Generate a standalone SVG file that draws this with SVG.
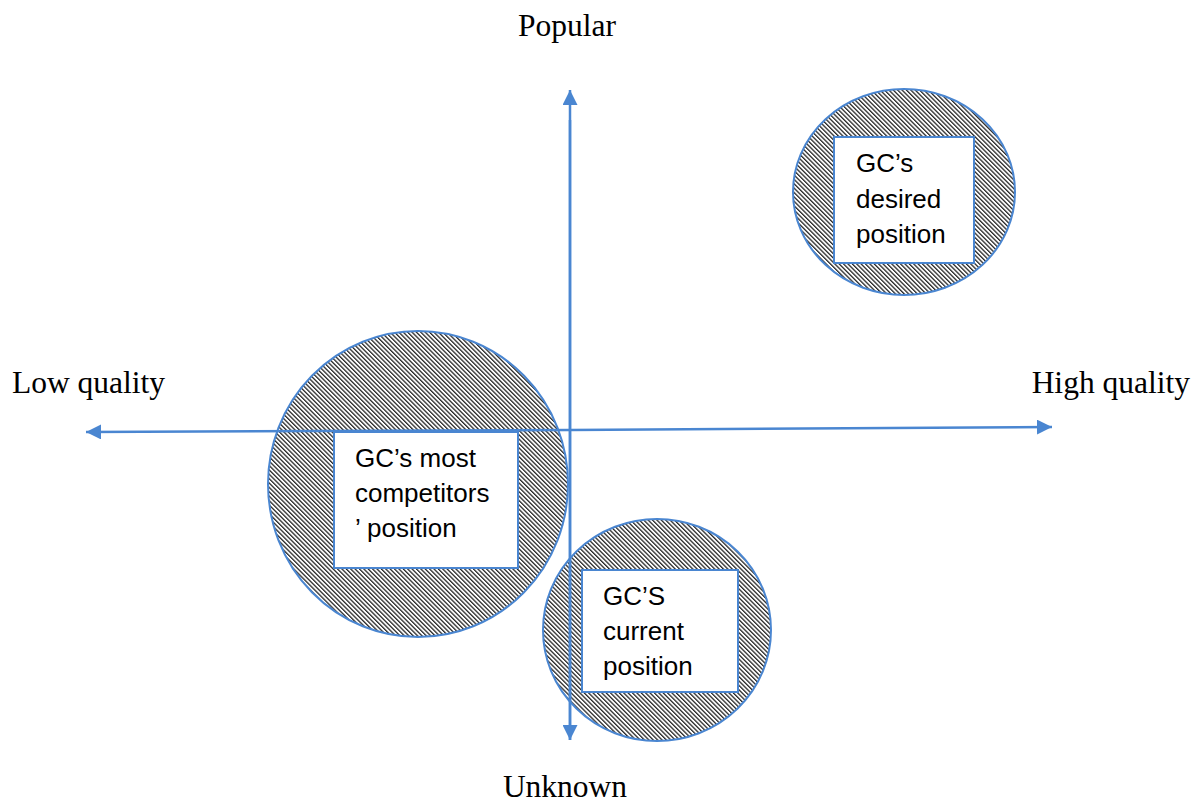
<svg xmlns="http://www.w3.org/2000/svg" width="1199" height="805" viewBox="0 0 1199 805">
<style>
.axis{stroke:#4a86d1;stroke-width:2.5;fill:none}
.circ{fill:url(#hatch);stroke:#4a86d1;stroke-width:2}
.box{fill:#fff;stroke:#4a86d1;stroke-width:2}
.lbl{font-family:"Liberation Serif",serif;font-size:31.5px;fill:#000}
.txt{font-family:"Liberation Sans",Arial,sans-serif;font-size:26px;fill:#000}
</style>
<defs>
<pattern id="hatch" patternUnits="userSpaceOnUse" width="3.1" height="6" patternTransform="rotate(-45)">
<rect x="0" y="0" width="3.1" height="6" fill="#fff"/>
<rect x="0" y="0" width="1.3" height="6" fill="#2a2a2a"/>
</pattern>
<marker id="arr" viewBox="0 0 10 10" refX="10" refY="5" markerWidth="6" markerHeight="6" markerUnits="strokeWidth" orient="auto">
<path d="M0,0 L10,5 L0,10 Z" fill="#4a86d1"/>
</marker>
</defs>
<g id="node-desired">
<ellipse class="circ" cx="904" cy="192" rx="111" ry="103"/>
<rect class="box" x="834" y="137" width="140" height="126"/>
<text class="txt" x="856" y="172">GC’s</text>
<text class="txt" x="856" y="208">desired</text>
<text class="txt" x="856" y="243">position</text>
</g>
<g id="node-competitors">
<ellipse class="circ" cx="418" cy="484" rx="150" ry="153"/>
<rect class="box" x="334" y="432" width="184" height="136"/>
<text class="txt" x="355" y="467">GC’s most</text>
<text class="txt" x="355" y="502">competitors</text>
<text class="txt" x="355" y="537">’ position</text>
</g>
<g id="node-current">
<ellipse class="circ" cx="657" cy="630" rx="114" ry="111"/>
<rect class="box" x="582" y="570" width="156" height="122"/>
<text class="txt" x="603" y="605">GC’S</text>
<text class="txt" x="603" y="640">current</text>
<text class="txt" x="603" y="675">position</text>
</g>
<g id="connectors">
<line class="axis" x1="570" y1="740" x2="570" y2="90" marker-end="url(#arr)"/>
<line class="axis" x1="570" y1="120" x2="570" y2="740" marker-end="url(#arr)"/>
<line class="axis" x1="570" y1="430" x2="86" y2="432" marker-end="url(#arr)"/>
<line class="axis" x1="570" y1="430" x2="1052" y2="427" marker-end="url(#arr)"/>
</g>
<g id="labels">
<text class="lbl" x="567" y="36" text-anchor="middle">Popular</text>
<text class="lbl" x="12" y="393">Low quality</text>
<text class="lbl" x="1190" y="393" text-anchor="end">High quality</text>
<text class="lbl" x="565" y="797" text-anchor="middle">Unknown</text>
</g>
</svg>
